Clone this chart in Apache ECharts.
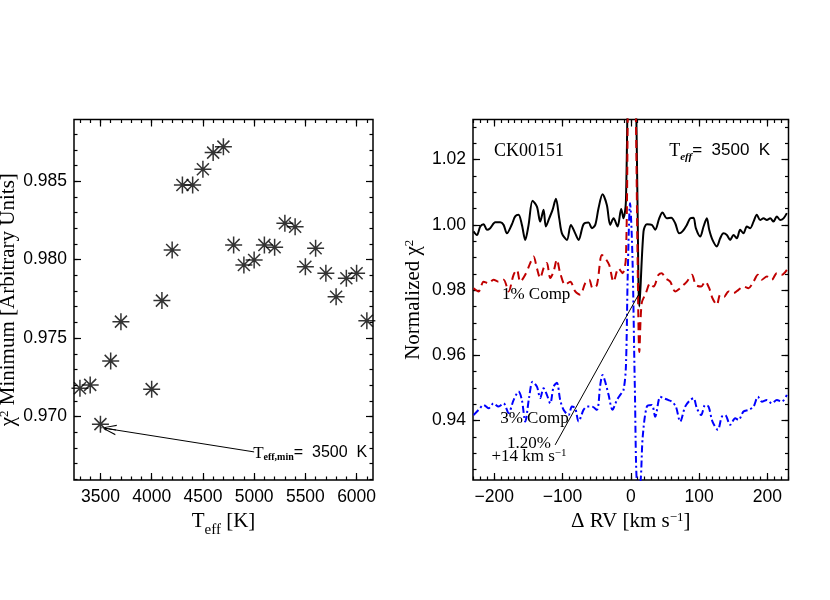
<!DOCTYPE html>
<html><head><meta charset="utf-8">
<script src="https://cdn.jsdelivr.net/npm/echarts@6/dist/echarts.min.js"></script>
<style>html,body{margin:0;padding:0;background:#fff}#c{width:830px;height:600px}</style>
</head><body><div id="c"></div>
<script>
// ---- Left panel data ----
const teff = [3300,3400,3500,3600,3700,4000,4100,4200,4300,4400,4500,4600,4700,4800,4900,5000,5100,5200,5300,5400,5500,5600,5700,5800,5900,6000,6100];
const chi2Min = [0.97181,0.97202,0.96952,0.97355,0.97605,0.97175,0.97739,0.98062,0.98476,0.98476,0.98576,0.98682,0.98720,0.98094,0.97966,0.97998,0.98094,0.98079,0.98232,0.98210,0.97955,0.98073,0.97913,0.97764,0.97882,0.97913,0.97611];
const leftXTicks = [3500,4000,4500,5000,5500,6000];
const leftYTicks = [0.970,0.975,0.980,0.985];

// ---- Right panel data ----
const rvBlack = [-230.2,-225.3,-220.4,-215.5,-210.6,-205.8,-198.4,-191.1,-186.2,-181.4,-174.0,-169.2,-164.3,-159.4,-154.5,-149.6,-143.8,-137.4,-132.6,-127.7,-124.3,-119.4,-114.5,-109.6,-104.7,-100.8,-93.5,-87.7,-81.3,-76.4,-69.1,-61.8,-56.9,-52.0,-47.2,-41.3,-35.0,-30.1,-25.2,-19.3,-14.0,-10.6,-7.1,-4,-1,3,7,10,12.6,18.7,23.6,30.9,35.8,41.7,46.5,52.9,59.2,65.1,70.9,75.8,82.2,87.0,91.9,95.3,101.7,106.6,111.4,114.9,119.7,126.1,131.0,135.8,140.7,145.6,150.5,155.4,160.2,165.1,170.0,174.9,179.8,184.6,189.5,194.4,199.3,204.2,209.0,213.9,218.8,223.7,228.6];
const chiBlack = [0.9980,0.9969,0.9995,1.0002,0.9985,0.9990,1.0008,1.0008,1.0000,0.9974,1.0002,1.0026,1.0031,1.0000,0.9954,1.0000,1.0074,1.0056,1.0010,1.0046,0.9995,1.0020,1.0046,1.0080,1.0020,0.9974,0.9954,1.0000,0.9974,0.9954,1.0002,1.0007,0.9990,1.0000,1.0051,1.0094,1.0061,1.0000,1.0020,0.9995,1.0049,1.0020,1.0071,1.05,1.08,1.08,1.05,1.005,0.975,0.9980,1.0002,1.0000,0.9985,1.0020,1.0038,1.0020,1.0022,1.0005,0.9974,0.9980,1.0000,1.0020,1.0022,0.9990,0.9964,0.9995,1.0020,0.9985,0.9954,0.9934,0.9959,0.9974,0.9969,0.9954,0.9969,0.9959,0.9985,0.9974,0.9995,0.9990,1.0010,1.0031,1.0015,1.0020,1.0015,1.0020,1.0010,1.0026,1.0015,1.0020,1.0036];

const rvRed = [-230.2,-222.8,-215.5,-208.2,-200.9,-193.6,-186.2,-178.9,-171.6,-166.7,-161.8,-154.5,-147.2,-142.3,-137.4,-132.6,-127.7,-122.8,-117.9,-113.0,-108.2,-103.3,-96.0,-88.6,-81.3,-74.0,-66.7,-60.8,-55.9,-49.6,-42.3,-37.4,-31.5,-25.2,-17.9,-12.0,-7.1,-4,-1,3,7,10,12.6,16,22,28.5,33.4,40.7,45.6,50.4,57.8,65.1,72.4,77.3,82.2,89.5,95.3,103.1,109.0,114.9,119.7,126.1,131.0,136.8,143.2,150.5,157.8,165.1,172.4,179.8,186.1,192.0,199.3,206.6,213.9,221.2,228.6];
const chiRed = [0.9806,0.9796,0.9826,0.9821,0.9832,0.9826,0.9832,0.9796,0.9847,0.9862,0.9826,0.9847,0.9883,0.9903,0.9867,0.9837,0.9867,0.9883,0.9837,0.9857,0.9893,0.9852,0.9816,0.9826,0.9796,0.9786,0.9821,0.9832,0.9806,0.9816,0.9908,0.9898,0.9877,0.9826,0.9867,0.9852,0.9898,1.04,1.07,1.07,1.04,0.99,0.961,0.976,0.979,0.9821,0.9811,0.9847,0.9852,0.9837,0.9826,0.9796,0.9806,0.9816,0.9826,0.9847,0.9816,0.9811,0.9826,0.9806,0.9775,0.9755,0.9786,0.9780,0.9796,0.9791,0.9801,0.9811,0.9806,0.9826,0.9847,0.9832,0.9842,0.9832,0.9852,0.9847,0.9862];

const rvBlue = [-230.2,-222.8,-215.5,-208.2,-200.9,-193.6,-186.2,-178.9,-171.6,-164.3,-159.4,-154.5,-148.7,-143.8,-137.4,-132.6,-127.7,-122.8,-117.9,-113.0,-108.2,-103.3,-98.4,-91.1,-86.2,-81.3,-76.4,-69.1,-64.2,-56.9,-49.6,-44.7,-41.3,-37.4,-32.5,-26.7,-20.3,-15.4,-10.6,-7.1,-4.4,-1,2.5,6,9.5,13.5,17.5,23.6,30.9,35.8,43.1,48.0,55.3,60.2,66.1,72.4,79.7,87.0,91.9,96.8,103.1,109.0,113.9,119.7,127.5,133.4,138.3,145.6,152.9,157.8,165.1,172.4,179.8,186.1,192.0,199.3,206.6,213.9,221.2,228.6];
const chiBlue = [0.9417,0.9433,0.9448,0.9438,0.9453,0.9443,0.9453,0.9423,0.9463,0.9489,0.9463,0.9397,0.9473,0.9519,0.9504,0.9469,0.9499,0.9479,0.9453,0.9504,0.9516,0.9463,0.9433,0.9417,0.9443,0.9438,0.9397,0.9433,0.9443,0.9443,0.9433,0.9509,0.9540,0.9519,0.9479,0.9433,0.9463,0.9479,0.9494,0.9565,0.985,1.0066,0.99,0.95,0.921,0.921,0.935,0.9443,0.9448,0.9412,0.9473,0.9469,0.9463,0.9458,0.9443,0.9397,0.9443,0.9463,0.9469,0.9438,0.9417,0.9448,0.9443,0.9397,0.9372,0.9412,0.9417,0.9387,0.9407,0.9402,0.9428,0.9433,0.9443,0.9473,0.9458,0.9463,0.9453,0.9463,0.9458,0.9479];
const rightXTicks = [-200,-100,0,100,200];
const rightYTicks = [0.94,0.96,0.98,1.00,1.02];

// ---- annotations (data coordinates) ----
const arrowFrom = [5000, 0.96775];
const arrowTo = [3580, 0.96922];
const rvLineFrom = [-110.7, 0.93256];
const rvLineTo = [14, 0.9796];

const SERIF = "'Liberation Serif','DejaVu Serif',serif";
const SANS = "'Liberation Sans','DejaVu Sans',sans-serif";

function range(a, b, step) { const r = []; for (let v = a; v <= b + 1e-9; v += step) r.push(Math.round(v * 1e6) / 1e6); return r; }
const leftXMinor = range(3300, 6100, 100);
const leftYMinor = range(0.966, 0.988, 0.001);
const rightXMinor = range(-230, 230, 10);
const rightYMinor = range(0.925, 1.030, 0.005);

const chart = echarts.init(document.getElementById('c'));

function axisSet(dim, gridIndex, min, max, major, minor, fmt, extra) {
  const posA = dim === 'x' ? 'bottom' : 'left', posB = dim === 'x' ? 'top' : 'right';
  const base = {type: 'value', gridIndex, min, max, splitLine: {show: false}, axisLine: {show: false, onZero: false}};
  const mk = (pos, ticks, len, labels) => Object.assign({}, base, {
    position: pos,
    axisTick: {show: true, inside: true, length: len, customValues: ticks, lineStyle: {color: '#000', width: 1.2}},
    axisLabel: labels ? {show: true, customValues: ticks, formatter: fmt, color: '#000', fontFamily: SANS, fontSize: 17.5, margin: dim === 'x' ? 8 : 7} : {show: false}
  });
  const a = mk(posA, major, 7, true);
  if (extra) Object.assign(a, extra);
  return [a, mk(posA, minor, 3.5, false), mk(posB, major, 7, false), mk(posB, minor, 3.5, false)];
}

const subRich = {
  t: {fontFamily: SERIF, fontSize: 21, lineHeight: 21, verticalAlign: 'top', color: '#000'},
  sub: {fontFamily: SERIF, fontSize: 15, verticalAlign: 'bottom', padding: [12, 0, 0, 0], color: '#000'}
};
const supRich = {
  t: {fontFamily: SERIF, fontSize: 21, lineHeight: 21, verticalAlign: 'bottom', color: '#000'},
  sup: {fontFamily: SERIF, fontSize: 13, lineHeight: 13, verticalAlign: 'top', color: '#000'}
};

const xAxes = [].concat(
  axisSet('x', 0, 3242, 6160, leftXTicks, leftXMinor, v => String(v),
    {name: '{t|T}{sub|eff}{t| [K]}', nameLocation: 'middle', nameGap: 14, nameTextStyle: {rich: subRich}}),
  axisSet('x', 1, -231, 231, rightXTicks, rightXMinor, v => String(v).replace('-', '\u2212'),
    {name: '{t|\u0394 RV [km s}{sup|\u22121}{t|]}', nameLocation: 'middle', nameGap: 22, nameTextStyle: {rich: supRich}})
);
const yAxes = [].concat(
  axisSet('y', 0, 0.96596, 0.98893, leftYTicks, leftYMinor, v => v.toFixed(3),
    {name: '{t|\u03c7}{sup|2}{t| Minimum [Arbitrary Units]}', nameLocation: 'middle', nameGap: 54, nameTextStyle: {rich: supRich}}),
  axisSet('y', 1, 0.9218, 1.0323, rightYTicks, rightYMinor, v => v.toFixed(2),
    {name: '{t|Normalized \u03c7}{sup|2}', nameLocation: 'middle', nameGap: 49, nameTextStyle: {rich: supRich}})
);

const starPath = 'path://M0,-10L0,10M-10,0L10,0M-7.07,-7.07L7.07,7.07M-7.07,7.07L7.07,-7.07';
// open chevron (pointing up) with a centre shaft; tiny corner specks fix the bounding box
const arrowPath = 'path://M5,0L1.5,10L2.3,10L5,1.6L7.7,10L8.5,10ZM4.6,0L5.4,0L5.4,10L4.6,10ZM0,10L0.02,10L0,9.98ZM10,10L9.98,10L10,9.98Z';

const zip = (a, b) => a.map((v, i) => [v, b[i]]);

const option = {
  animation: false,
  backgroundColor: '#fff',
  grid: [
    {left: 74, top: 119.5, width: 299, height: 360.5, show: true, borderColor: '#000', borderWidth: 1.5, backgroundColor: 'transparent', containLabel: false, outerBoundsMode: 'none'},
    {left: 473, top: 119.5, width: 315.5, height: 360.5, show: true, borderColor: '#000', borderWidth: 1.5, backgroundColor: 'transparent', containLabel: false, outerBoundsMode: 'none'}
  ],
  xAxis: xAxes,
  yAxis: yAxes,
  series: [
    {
      type: 'scatter', xAxisIndex: 0, yAxisIndex: 0,
      data: zip(teff, chi2Min),
      symbol: starPath, symbolSize: 17,
      itemStyle: {color: 'rgba(0,0,0,0)', borderColor: '#000', borderWidth: 1.5},
      markLine: {
        silent: true, animation: false,
        symbol: ['none', arrowPath], symbolSize: 15,
        lineStyle: {color: '#000', width: 1, type: 'solid'},
        label: {show: false},
        data: [[{coord: arrowFrom}, {coord: arrowTo}]]
      }
    },
    {
      type: 'line', xAxisIndex: 4, yAxisIndex: 4, data: zip(rvBlack, chiBlack),
      showSymbol: false, smooth: 0.3, lineStyle: {color: '#000', width: 2},
      markLine: {
        silent: true, animation: false, symbol: ['none', 'none'],
        lineStyle: {color: '#000', width: 1, type: 'solid'}, label: {show: false},
        data: [[{coord: rvLineFrom}, {coord: rvLineTo}]]
      }
    },
    {
      type: 'line', xAxisIndex: 4, yAxisIndex: 4, data: zip(rvRed, chiRed),
      showSymbol: false, smooth: 0.3, lineStyle: {color: '#c00000', width: 2, type: [8, 5]}
    },
    {
      type: 'line', xAxisIndex: 4, yAxisIndex: 4, data: zip(rvBlue, chiBlue),
      showSymbol: false, smooth: 0.3, lineStyle: {color: '#0000ff', width: 2, type: [7, 3, 2, 3]}
    }
  ]
};
chart.setOption(option);

const L = {xAxisIndex: 0, yAxisIndex: 0}, R = {xAxisIndex: 4, yAxisIndex: 4};
const px = (f, c) => chart.convertToPixel(f, c);

const teffRichL = {
  t: {fontFamily: SERIF, fontSize: 17, lineHeight: 17, verticalAlign: 'top', fill: '#000'},
  s: {fontFamily: SERIF, fontSize: 10, fontWeight: 'bold', verticalAlign: 'bottom', padding: [8, 0, 0, 0], fill: '#000'},
  n: {fontFamily: SANS, fontSize: 16, lineHeight: 17, verticalAlign: 'top', fill: '#000'}
};
const teffRichR = {
  t: {fontFamily: SERIF, fontSize: 18, lineHeight: 18, verticalAlign: 'top', fill: '#000'},
  s: {fontFamily: SERIF, fontSize: 11, fontWeight: 'bold', fontStyle: 'italic', verticalAlign: 'bottom', padding: [10, 0, 0, 0], fill: '#000'},
  n: {fontFamily: SANS, fontSize: 17, lineHeight: 18, verticalAlign: 'top', fill: '#000'}
};
const supRichSmall = {
  t: {fontFamily: SERIF, fontSize: 17, lineHeight: 17, verticalAlign: 'bottom', fill: '#000'},
  sup: {fontFamily: SERIF, fontSize: 11, lineHeight: 11, verticalAlign: 'top', fill: '#000'}
};

const a0 = px(L, arrowFrom);
const pCK = px(R, [-200.4, 1.0226]);
const pTe = px(R, [204.1, 1.0226]);
const p1 = px(R, [-188.7, 0.97859]);
const p3 = px(R, [-191.2, 0.94074]);
const p12 = px(R, [-149, 0.93308]);
const p14 = px(R, [-149, 0.92897]);

const txt = (p, text, style) => ({type: 'text', x: p[0], y: p[1], silent: true, style: Object.assign({text, fill: '#000'}, style)});

chart.setOption({
  graphic: [
    txt([a0[0] - 1, a0[1] - 7], '{t|T}{s|eff,min}{n|=  3500  K}', {align: 'left', verticalAlign: 'top', rich: teffRichL}),
    txt(pCK, 'CK00151', {align: 'left', verticalAlign: 'middle', fontFamily: SERIF, fontSize: 18}),
    txt([pTe[0], pTe[1] - 9], '{t|T}{s|eff}{n|=  3500  K}', {align: 'right', verticalAlign: 'top', rich: teffRichR}),
    txt(p1, '1% Comp', {align: 'left', verticalAlign: 'middle', fontFamily: SERIF, fontSize: 17}),
    txt(p3, '3% Comp', {align: 'left', verticalAlign: 'middle', fontFamily: SERIF, fontSize: 17}),
    txt(p12, '1.20%', {align: 'center', verticalAlign: 'middle', fontFamily: SERIF, fontSize: 17}),
    txt(p14, '{t|+14 km s}{sup|\u22121}', {align: 'center', verticalAlign: 'middle', rich: supRichSmall})
  ]
});
</script>
</body></html>
